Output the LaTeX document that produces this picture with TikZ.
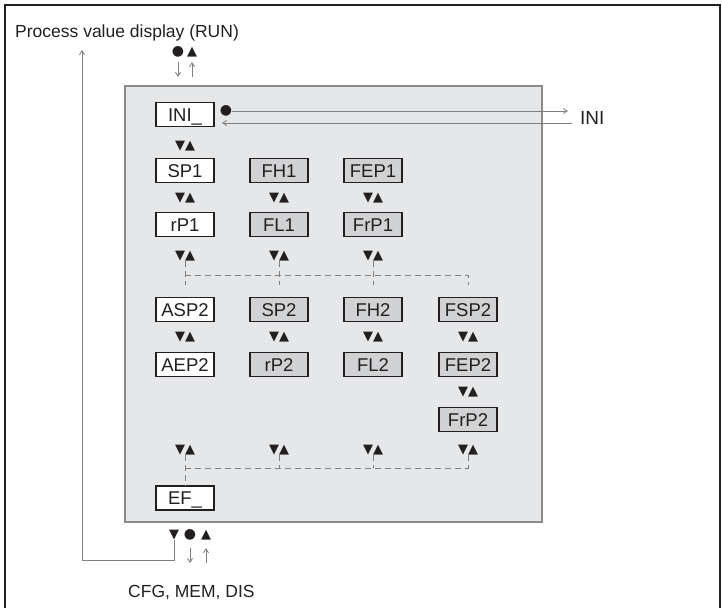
\documentclass[tikz,border=0pt]{standalone}
\usepackage{fontspec}
\setmainfont{Liberation Sans}
\newfontfamily\symfont{DejaVu Sans}
\usetikzlibrary{arrows.meta}
\definecolor{ink}{HTML}{231F20}
\definecolor{panel}{HTML}{E6E7E8}
\definecolor{panelline}{HTML}{8A8A8A}
\definecolor{greybox}{HTML}{D1D2D4}
\definecolor{wire}{HTML}{7F7F7F}
\begin{document}
\begin{tikzpicture}[x=1pt,y=-1pt,
  lbl/.style={font=\fontsize{17.5}{20}\selectfont, text=ink, inner sep=0},
  parbox/.style={draw=ink, line width=1.4pt, minimum width=58pt, minimum height=24pt, inner sep=0,
    text height=13pt, text depth=0pt, font=\fontsize{18.5}{20}\selectfont, text=ink},
  wbox/.style={parbox, fill=white},
  gbox/.style={parbox, fill=greybox},
  navmark/.style={font=\symfont\fontsize{13}{13}\selectfont, text=ink, inner sep=0},
  bigmark/.style={font=\symfont\fontsize{14}{14}\selectfont, text=ink, inner sep=0},
  wireline/.style={draw=wire, line width=0.9pt},
  dashline/.style={draw=wire, line width=0.9pt, dash pattern=on 6pt off 4pt},
  tipend/.style={-{Straight Barb[length=4pt,width=5pt,line width=0.8pt]}},
  panelbox/.style={fill=panel, draw=panelline, line width=1.2pt, minimum width=417pt, minimum height=436pt, inner sep=0}
]
\useasboundingbox (0,0) rectangle (722,608);
% outer frame
\draw[ink, line width=2pt] (5,608) -- (5,5) -- (720,5) -- (720,608);

% panel
\node[panelbox] (panel) at (333.5,304) {};

% labels
\node[lbl, anchor=base west] (run) at (15,37) {Process value display (RUN)};
\node[lbl, anchor=base west] (cfg) at (128,597) {CFG, MEM, DIS};
\node[lbl, anchor=base west, font=\fontsize{19}{20}\selectfont] (inilbl) at (580,124) {INI};

% top symbols
\node[bigmark] (topdot) at (178,52) {●};
\node[navmark] (toptri) at (192,52) {▲};
\coordinate (tdA) at (178,62);
\coordinate (tdB) at (178,77);
\coordinate (tuA) at (192,77);
\coordinate (tuB) at (192,62);
\draw[wireline, tipend] (tdA) -- (tdB);
\draw[wireline, tipend] (tuA) -- (tuB);

% bottom symbols
\node[navmark] (botdown) at (174,535) {▼};
\node[bigmark] (botdot) at (190,535) {●};
\node[navmark] (botup) at (206,535) {▲};
\coordinate (bdA) at (190,548);
\coordinate (bdB) at (190,563);
\coordinate (buA) at (206,563);
\coordinate (buB) at (206,548);
\draw[wireline, tipend] (bdA) -- (bdB);
\draw[wireline, tipend] (buA) -- (buB);

% return path
\coordinate (rc1) at (174,560);
\coordinate (rc2) at (82,560);
\coordinate (rc3) at (82,50);
\draw[wireline, tipend] (botdown.south) -- (rc1) -- (rc2) -- (rc3);

% boxes
\node[wbox] (INI) at (185,114.5) {INI\_};
\node[wbox] (SP1) at (185,170.5) {SP1};
\node[wbox] (rP1) at (185,224.5) {rP1};
\node[gbox] (FH1) at (279,170.5) {FH1};
\node[gbox] (FL1) at (279,224.5) {FL1};
\node[gbox] (FEP1) at (373,170.5) {FEP1};
\node[gbox] (FrP1) at (373,224.5) {FrP1};

\node[wbox] (ASP2) at (185,309.5) {ASP2};
\node[wbox] (AEP2) at (185,364.5) {AEP2};
\node[gbox] (SP2) at (279,309.5) {SP2};
\node[gbox] (rP2) at (279,364.5) {rP2};
\node[gbox] (FH2) at (373,309.5) {FH2};
\node[gbox] (FL2) at (373,364.5) {FL2};
\node[gbox] (FSP2) at (468,309.5) {FSP2};
\node[gbox] (FEP2) at (468,364.5) {FEP2};
\node[gbox] (FrP2) at (468,419.5) {FrP2};
\node[wbox] (EF) at (185,498) {EF\_};

% INI connection
\node[bigmark] (inidot) at (226,111) {●};
\coordinate (iniout) at (568,111);
\coordinate (iniin) at (572,123);
\coordinate (iniback) at (222,123);
\draw[wireline, tipend] (inidot.east) -- (iniout);
\draw[wireline, tipend] (iniin) -- (iniback);

% navigation markers
\node[navmark] (mA) at (185,146) {▼▲};
\foreach \c/\x in {1/185,2/279,3/373} {
  \node[navmark] (mB\c) at (\x,198) {▼▲};
  \node[navmark] (mC\c) at (\x,256) {▼▲};
}
\foreach \c/\x in {1/185,2/279,3/373,4/468} {
  \node[navmark] (mD\c) at (\x,337) {▼▲};
  \node[navmark] (mF\c) at (\x,450) {▼▲};
}
\node[navmark] (mE4) at (468,392) {▼▲};

% top dashed distribution
\coordinate (dt1) at (185,275);
\coordinate (dt4) at (468,275);
\coordinate (de1) at (185,285);
\coordinate (de2) at (279,285);
\coordinate (de3) at (373,285);
\coordinate (de4) at (468,285);
\draw[dashline] (mC1.south) -- (de1);
\draw[dashline] (mC2.south) -- (de2);
\draw[dashline] (mC3.south) -- (de3);
\draw[dashline] (dt1) -- (dt4) -- (de4);

% bottom dashed collection
\coordinate (db1) at (185,468);
\coordinate (db2) at (279,468);
\coordinate (db3) at (373,468);
\coordinate (db4) at (468,468);
\draw[dashline] (mF1.south) -- (EF.north);
\draw[dashline] (mF2.south) -- (db2);
\draw[dashline] (mF3.south) -- (db3);
\draw[dashline] (mF4.south) -- (db4) -- (db1);
\end{tikzpicture}
\end{document}
